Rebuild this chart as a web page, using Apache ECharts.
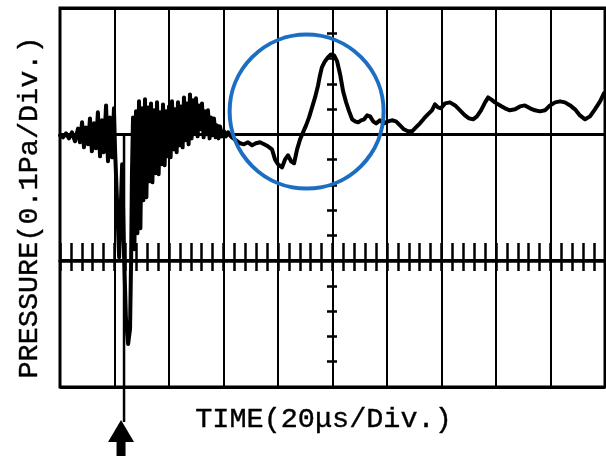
<!DOCTYPE html>
<html><head><meta charset="utf-8">
<script src="https://cdn.jsdelivr.net/npm/echarts@6.0.0/dist/echarts.min.js"></script>
<style>html,body{margin:0;padding:0;background:#fff}#c{width:606px;height:459px}</style>
</head><body><div id="c"></div>
<script>
// time in microseconds (20 us / division)
const traceTime = [
0,1.1,2.2,3.3,4.4,5.5,6.6,7.3,8.1,8.8,9.5,10.3,11.0,11.7,12.5,13.2,13.9,14.7,15.4,16.1,16.9,17.6,18.3,19.1,19.8,
20.2,20.9,21.7,22.4,22.8,23.5,24.2,25.0,25.7,26.1,26.4,26.8,
27.3,27.9,28.4,29.0,29.5,30.1,30.6,31.2,31.7,32.3,32.8,33.4,33.9,34.5,35.0,35.6,36.2,36.7,37.3,37.8,38.4,38.9,39.5,40.0,40.6,41.1,41.7,42.2,42.8,43.3,43.9,44.4,45.0,45.5,46.1,46.6,47.2,47.7,48.3,48.8,49.4,49.9,50.5,51.0,51.6,52.1,52.7,53.2,53.8,54.3,54.9,55.4,56.0,56.5,57.1,57.6,58.2,58.7,59.5,60.2,60.9,61.7,62.4,
63.1,64.6,66.1,67.5,69.0,70.5,71.9,73.4,74.9,76.3,77.8,78.9,80.0,81.5,82.6,83.7,84.8,85.9,87.0,88.1,89.2,90.3,91.4,92.5,93.6,94.7,95.4,96.1,97.2,98.3,99.4,100.6,101.7,102.8,103.9,105.0,106.1,107.2,108.3,109.4,110.5,111.6,112.7,113.8,114.9,116.0,117.4,118.9,120.4,121.8,123.3,124.8,126.2,127.7,129.2,130.6,132.1,133.6,135.0,136.5,137.6,138.7,139.8,141.3,143.1,145.0,146.8,148.6,150.1,151.6,153.0,154.5,156.0,157.1,158.2,159.6,161.5,163.3,165.1,167.0,168.8,170.6,172.5,174.3,176.1,178.0,179.8,181.7,183.5,185.3,187.2,189.0,190.8,192.7,194.5,196.3,198.2,199.6
];
// pressure in mPa (0.1 Pa / division)
const tracePressure = [
-0.8,-2.4,0.8,-3.2,1.6,-5.5,4.5,-6.3,9.5,-10.3,5.5,-7.9,12.6,-13.4,8.7,-11.1,17.4,-17.4,11.1,-14.2,22.9,-21.3,13.4,-18.2,20.6,
-11.9,-51.4,-97.2,-51.4,-23.7,-94.9,-146.2,-166.0,-154.1,-98.8,-31.6,13.4,
-90.9,18.2,-78.3,26.1,-74.3,20.6,-52.2,27.7,-49.8,21.3,-37.2,24.5,-38.0,19.0,-30.8,25.3,-31.6,17.4,-23.7,23.7,-24.5,18.2,-17.4,22.1,-18.2,26.1,-11.9,19.8,-14.2,25.3,-8.7,22.1,-10.3,29.2,-4.7,24.5,-7.9,31.6,-3.2,26.9,2.4,28.5,-1.6,22.9,4.0,24.5,-2.4,18.2,0.0,19.0,-3.2,13.4,-0.8,12.6,-2.4,7.1,-3.2,6.3,-1.6,2.4,-1.6,1.6,-0.8,
-2.4,-4.7,-7.1,-7.9,-6.3,-8.7,-7.1,-6.3,-7.9,-9.5,-11.9,-19.8,-23.7,-26.1,-19.8,-16.6,-21.3,-22.9,-11.9,-4.0,1.6,7.1,13.4,21.3,29.2,38.7,46.6,53.0,57.7,60.9,63.2,62.4,57.7,47.4,34.0,25.3,18.2,11.9,10.3,9.5,11.1,11.9,15.0,14.2,10.3,8.7,11.1,8.7,10.3,11.1,10.3,7.1,4.0,2.4,2.4,5.5,8.7,12.6,15.8,19.0,23.7,21.3,20.6,24.5,25.3,22.9,19.0,15.0,12.6,11.9,14.2,19.0,25.3,29.2,27.7,25.3,22.9,20.6,19.0,19.8,22.1,22.9,20.6,19.0,18.2,19.0,22.9,25.3,26.1,25.3,22.9,19.8,15.0,11.9,14.2,19.8,26.1,32.4
];
const timeRange = [0, 200];      // us
const timeDiv = 20;              // us per division
const timeMarkerStep = 4;        // us between timing marks
const pressureRange = [-200, 100]; // mPa
const pressureDiv = 100;         // mPa per division
const pressureMinor = 20;        // mPa per minor tick
const xTitle = 'TIME(20μs/Div.)';
const yTitle = 'PRESSURE(0.1Pa/Div.)';
const eventTime = 23.5;          // arrow position (us)
const circleCenter = [90.5, 18]; // highlighted region (us, mPa)

const chart = echarts.init(document.getElementById('c'), null, {renderer:'canvas', width:606, height:459});
const blk = '#000';
const hidden = {axisLine:{show:false},axisTick:{show:false},axisLabel:{show:false},splitLine:{show:false}};
chart.setOption({
  animation:false,
  backgroundColor:'#fff',
  grid:[
    {left:60,right:1,top:8,bottom:72,show:true,borderColor:blk,borderWidth:3,backgroundColor:'transparent'},
    {left:60,right:1,top:241,height:20},
    {left:332,width:1,top:8,bottom:72}
  ],
  xAxis:[
    {gridIndex:0,type:'value',min:timeRange[0],max:timeRange[1],interval:timeDiv,
     axisLine:{show:false},axisTick:{show:false},axisLabel:{show:false},
     splitLine:{show:true,lineStyle:{color:blk,width:2}}},
    {gridIndex:1,type:'value',min:timeRange[0],max:timeRange[1],interval:timeMarkerStep,position:'bottom',
     axisLine:{show:true,lineStyle:{color:blk,width:3.5}},
     axisTick:{show:true,inside:true,length:18,lineStyle:{color:blk,width:2.5}},
     axisLabel:{show:false},splitLine:{show:false}},
    {gridIndex:1,type:'value',min:timeRange[0],max:timeRange[1],interval:timeMarkerStep,position:'bottom',
     axisLine:{show:false},
     axisTick:{show:true,inside:false,length:10,lineStyle:{color:blk,width:2.5}},
     axisLabel:{show:false},splitLine:{show:false}},
    Object.assign({gridIndex:2,type:'value',min:0,max:1},hidden)
  ],
  yAxis:[
    {gridIndex:0,type:'value',min:pressureRange[0],max:pressureRange[1],interval:pressureDiv,
     axisLine:{show:false},axisTick:{show:false},axisLabel:{show:false},
     splitLine:{show:true,lineStyle:{color:blk,width:3}}},
    Object.assign({gridIndex:1,type:'value',min:0,max:1},hidden),
    {gridIndex:2,type:'value',min:pressureRange[0],max:pressureRange[1],interval:pressureMinor,position:'left',
     axisLine:{show:false},
     axisTick:{show:true,inside:true,length:5,lineStyle:{color:blk,width:2.5}},
     axisLabel:{show:false},splitLine:{show:false}},
    {gridIndex:2,type:'value',min:pressureRange[0],max:pressureRange[1],interval:pressureMinor,position:'left',
     axisLine:{show:false},
     axisTick:{show:true,inside:false,length:5,lineStyle:{color:blk,width:2.5}},
     axisLabel:{show:false},splitLine:{show:false}}
  ],
  series:[{
    type:'line',xAxisIndex:0,yAxisIndex:0,
    data:traceTime.map((t,i)=>[t,tracePressure[i]]),
    showSymbol:false,symbol:'none',
    lineStyle:{color:blk,width:4,join:'round',cap:'round'},z:5
  }]
});

const FONT = "28.5px 'Liberation Mono', 'Courier New', monospace";
const cc = chart.convertToPixel({gridIndex:0}, circleCenter);
const ev = chart.convertToPixel({gridIndex:0}, [eventTime, 0]);
const ax = ev[0];
const txtStyle = (t) => ({text:t,font:FONT,fill:blk,stroke:blk,lineWidth:0.4,align:'center',verticalAlign:'middle',textAlign:'center',textVerticalAlign:'middle'});
chart.setOption({
  graphic:[
    {type:'circle',shape:{cx:cc[0],cy:cc[1],r:77},style:{fill:'none',stroke:'#1b6ec2',lineWidth:4},z:100},
    {type:'line',shape:{x1:ax,y1:ev[1],x2:ax,y2:422},style:{stroke:blk,lineWidth:2.5},z:90},
    {type:'polygon',shape:{points:[[ax-3,420],[ax-16,442],[ax+10,442]]},style:{fill:blk},z:90},
    {type:'rect',shape:{x:ax-7.5,y:441,width:9,height:15},style:{fill:blk},z:90},
    {type:'text',x:323.5,y:419,style:txtStyle(xTitle),z:90},
    {type:'text',x:29,y:207.5,rotation:Math.PI/2,style:txtStyle(yTitle),z:90}
  ]
});
</script>
</body></html>
